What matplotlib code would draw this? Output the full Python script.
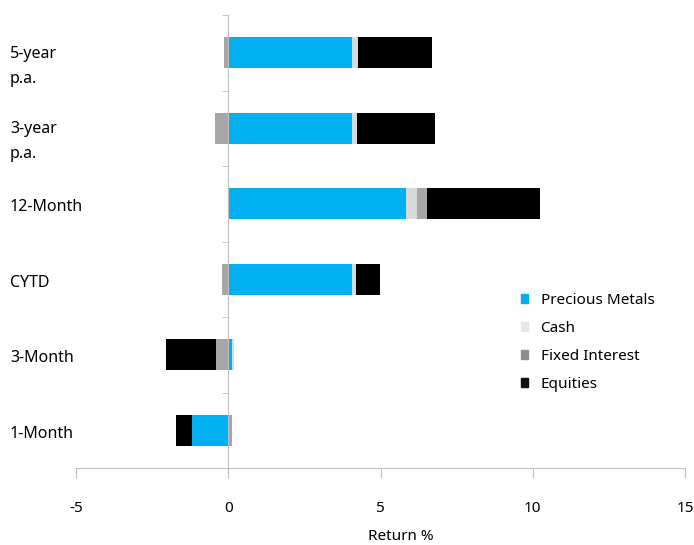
import numpy as np
import matplotlib.pyplot as plt
from matplotlib.patches import Patch

plt.rcParams['font.family'] = ['Noto Sans', 'DejaVu Sans']

# categories, top to bottom
categorias = ['5-year\np.a.', '3-year\np.a.', '12-Month', 'CYTD', '3-Month', '1-Month']
series = ['Precious Metals', 'Cash', 'Fixed Interest', 'Equities']
precious = [4.08, 4.08, 5.83, 4.08, 0.13, -1.19]
cash = [0.19, 0.14, 0.38, 0.11, 0.05, 0.0]
fixed = [-0.15, -0.44, 0.33, -0.20, -0.39, 0.13]
equities = [2.43, 2.58, 3.70, 0.80, -1.64, -0.51]
xticks = [-5, 0, 5, 10, 15]

colores = ['#00B0F0', '#D9D9D9', '#A6A6A6', '#000000']
colores_leyenda = ['#00B0F0', '#E6E6E6', '#8C8C8C', '#111111']
gris = '#BFBFBF'

fig = plt.figure(figsize=(6.94, 5.45), dpi=100)
ax = fig.add_axes([76/694, 77/545, 609/694, 453/545])

n = len(categorias)
y = np.arange(n)[::-1]
pos = np.zeros(n)
neg = np.zeros(n)
for nombre, vals, col in zip(series, [precious, cash, fixed, equities], colores):
    vals = np.array(vals)
    left = np.where(vals >= 0, pos, neg)
    ax.barh(y, vals, left=left, height=0.41, color=col, linewidth=0)
    pos = pos + np.where(vals >= 0, vals, 0)
    neg = neg + np.where(vals < 0, vals, 0)

ax.set_xlim(-5, 15)
ax.set_ylim(-0.5, n - 0.5)
ax.set_xticks(xticks)
ax.set_xticklabels([str(t) for t in xticks], fontsize=11)
ax.tick_params(axis='x', length=7, color=gris, pad=17)

# eje y en el cero
ax.spines['left'].set_position(('data', 0))
ax.spines['left'].set_color(gris)
ax.spines['bottom'].set_color(gris)
ax.spines['top'].set_visible(False)
ax.spines['right'].set_visible(False)
ax.set_yticks([])
ax.set_yticks(np.arange(-0.5, n), minor=True)
ax.tick_params(axis='y', which='minor', length=4, color=gris, direction='out')

for yi, lab in zip(y, categorias):
    if '\n' in lab:
        ax.annotate(lab, xy=(10/694, yi), xycoords=(fig.transFigure, ax.transData),
                    xytext=(0, 5), textcoords='offset points', va='top', ha='left',
                    fontsize=11.5, linespacing=1.75)
    else:
        ax.annotate(lab, xy=(10/694, yi), xycoords=(fig.transFigure, ax.transData),
                    xytext=(0, -2.5), textcoords='offset points',
                    va='center', ha='left', fontsize=11.5)

fig.text(401/694, 8/545, 'Return %', ha='center', va='center', fontsize=11)

handles = [Patch(color=c, label=s) for c, s in zip(colores_leyenda, series)]
ax.legend(handles=handles, loc='upper left', bbox_to_anchor=(507/694, 1 - 279/545),
          bbox_transform=fig.transFigure, frameon=False, fontsize=11,
          handlelength=0.5, handleheight=0.5, handletextpad=0.8, labelspacing=0.85)

plt.savefig('out.png', dpi=100)
